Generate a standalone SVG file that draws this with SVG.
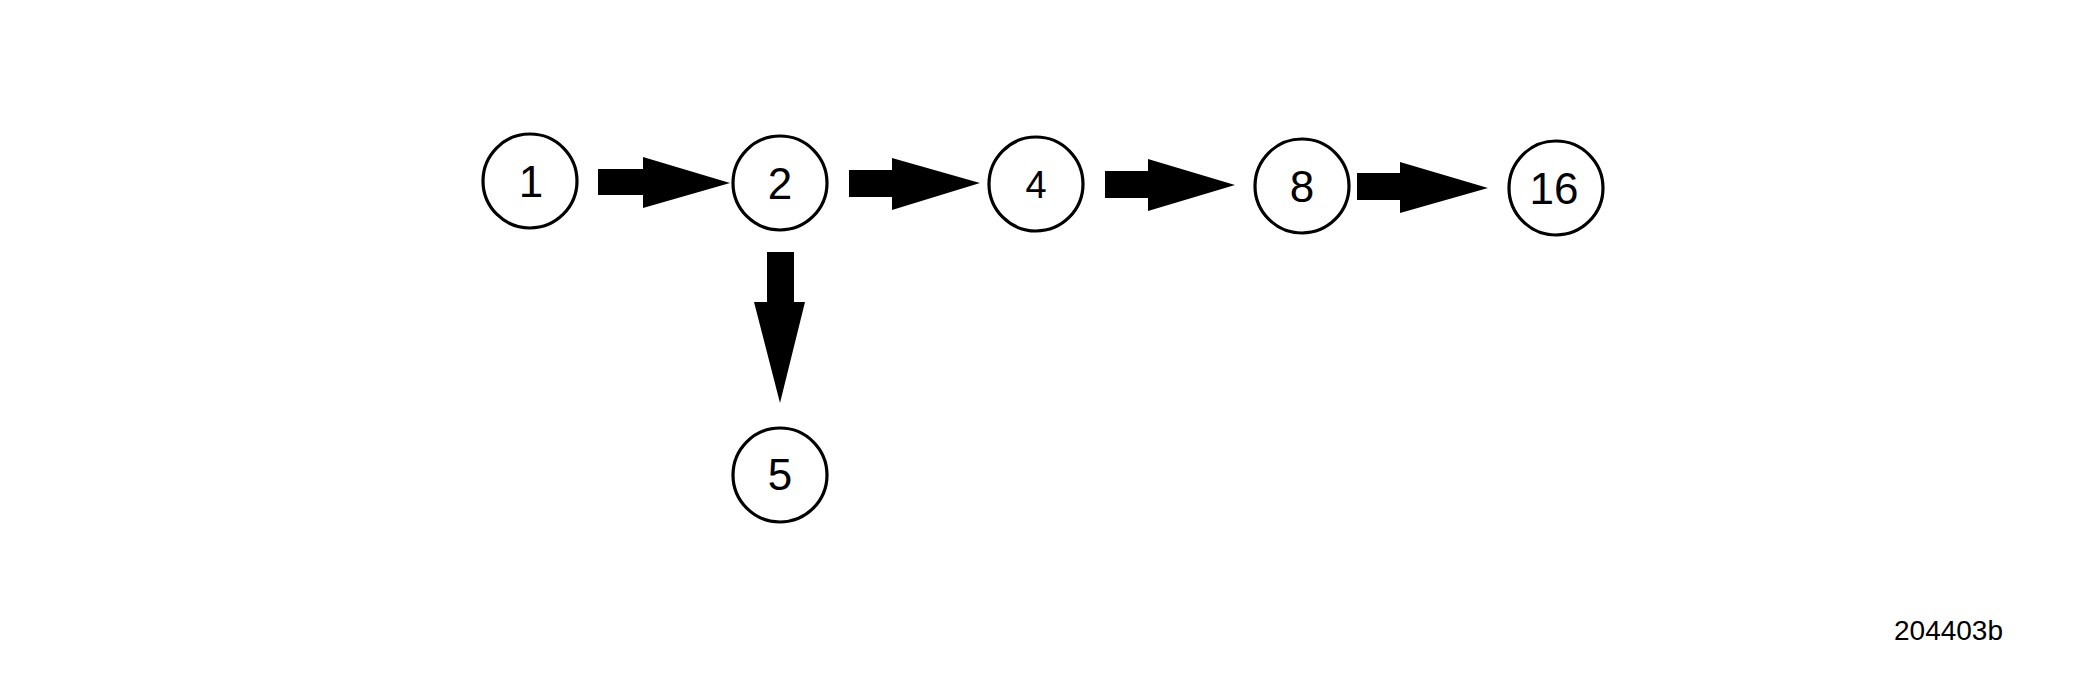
<svg xmlns="http://www.w3.org/2000/svg" width="2100" height="675" viewBox="0 0 2100 675">
<style>
.node circle{fill:#fff;stroke:#000;stroke-width:3.2}
.node text{font-family:"Liberation Sans",Arial,sans-serif;font-size:44px;text-anchor:middle;fill:#000}
.arrow{fill:#000;stroke:none}
.lbl{font-family:"Liberation Sans",Arial,sans-serif;font-size:28px;fill:#000}
</style>
<rect width="2100" height="675" fill="#fff"/>
<g id="connectors">
<polygon class="arrow" points="598,169 643,169 643,157 730,183 643,208 643,195 598,195"/>
<polygon class="arrow" points="849,170 892,170 892,158 980,183 892,210 892,197 849,197"/>
<polygon class="arrow" points="1105,171 1148,171 1148,159 1235,185 1148,211 1148,198 1105,198"/>
<polygon class="arrow" points="1357,173 1400,173 1400,162 1488,188 1400,213 1400,200 1357,200"/>
<polygon class="arrow" points="767,252 794,252 794,302 805,302 780,403 754,302 767,302"/>
</g>
<g id="n1" class="node"><circle cx="530" cy="181" r="47"/><text x="531" y="197">1</text></g>
<g id="n2" class="node"><circle cx="780" cy="183" r="47"/><text x="780" y="199">2</text></g>
<g id="n4" class="node"><circle cx="1036" cy="184" r="47"/><text x="1036" y="198" style="font-size:38px">4</text></g>
<g id="n8" class="node"><circle cx="1302" cy="186" r="47"/><text x="1302" y="202">8</text></g>
<g id="n16" class="node"><circle cx="1556" cy="188" r="47"/><text x="1554" y="204">16</text></g>
<g id="n5" class="node"><circle cx="780" cy="475" r="47"/><text x="780" y="490">5</text></g>
<text class="lbl" x="1894" y="640">204403b</text>
</svg>
